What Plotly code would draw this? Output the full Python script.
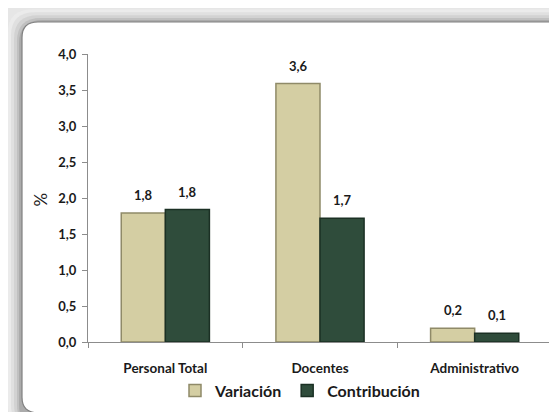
import plotly.graph_objects as go

categories = ["Personal Total", "Docentes", "Administrativo"]
variacion = [1.79, 3.59, 0.19]
contribucion = [1.84, 1.72, 0.12]
series_names = ["Variación", "Contribución"]
y_ticks = [0, 0.5, 1.0, 1.5, 2.0, 2.5, 3.0, 3.5, 4.0]

W, H = 557, 412
ML, MR, MT, MB = 80, 13, 46, 69
PW, PH = W - ML - MR, H - MT - MB

FONT = "Lato, 'Open Sans', Arial, sans-serif"
TXT = "#1a1a1a"


def px2paper(x, y):
    return (x - ML) / PW, (H - MB - y) / PH


def rounded_path(x0, y0, x1, y1, r):
    def P(x, y):
        a, b = px2paper(x, y)
        return f"{a:.5f},{b:.5f}"
    d = (f"M {P(x0 + r, y0)} L {P(x1 - r, y0)} Q {P(x1, y0)} {P(x1, y0 + r)} "
         f"L {P(x1, y1 - r)} Q {P(x1, y1)} {P(x1 - r, y1)} "
         f"L {P(x0 + r, y1)} Q {P(x0, y1)} {P(x0, y1 - r)} "
         f"L {P(x0, y0 + r)} Q {P(x0, y0)} {P(x0 + r, y0)} Z")
    return d


fig = go.Figure()
fig.add_trace(go.Bar(
    x=categories, y=variacion, name=series_names[0],
    marker=dict(color="#d4cea3", line=dict(color="#8f8a68", width=1.5)),
))
fig.add_trace(go.Bar(
    x=categories, y=contribucion, name=series_names[1],
    marker=dict(color="#2f4c3b", line=dict(color="#1b3024", width=1.5)),
))

annotations = []
for vals, shift in ((variacion, -22), (contribucion, 22)):
    for c, v in zip(categories, vals):
        annotations.append(dict(
            x=c, y=v, xref="x", yref="y", text=f"{v:.1f}".replace(".", ","),
            showarrow=False, xshift=shift, yshift=18, yanchor="middle",
            font=dict(family=FONT, size=13, color=TXT, weight="bold"),
        ))
ax, ay = px2paper(32, 196)
annotations.append(dict(
    x=ax, y=ay, xref="paper", yref="paper", text="%", textangle=-90,
    xanchor="center", yanchor="middle",
    showarrow=False, font=dict(family=FONT, size=17, color=TXT),
))

shapes = []
bands = [(0, "#ebebeb"), (3, "#e0e0e0"), (6, "#d2d2d2"), (9, "#c0c0c0"), (11, "#ababab")]
for off, col in bands:
    shapes.append(dict(type="path", path=rounded_path(off, off, W + 20, H + 20, 24),
                       xref="paper", yref="paper", fillcolor=col,
                       line=dict(width=0), layer="below"))
shapes.append(dict(type="path", path=rounded_path(14, 13, W + 4, H + 4, 16),
                   xref="paper", yref="paper", fillcolor="white",
                   line=dict(color="#808080", width=1.2), layer="below"))

fig.update_layout(
    width=W, height=H,
    margin=dict(l=ML, r=MR, t=MT, b=MB),
    paper_bgcolor="#e6e6e6", plot_bgcolor="rgba(0,0,0,0)",
    separators=",.",
    barmode="group", bargap=0.43, bargroupgap=0.0,
    font=dict(family=FONT, color=TXT),
    showlegend=True,
    legend=dict(orientation="h", x=(292 - ML) / PW, xanchor="center",
                y=(H - MB - 393) / PH, yanchor="middle",
                font=dict(family=FONT, size=16, color=TXT, weight="bold"),
                bgcolor="rgba(0,0,0,0)", itemwidth=30, traceorder="normal"),
    annotations=annotations,
    shapes=shapes,
    xaxis=dict(showline=True, linecolor="#8c8c8c", linewidth=1,
               ticks="outside", tickson="boundaries", ticklen=5, tickcolor="#8c8c8c",
               ticklabelstandoff=14,
               tickfont=dict(family=FONT, size=13.5, color=TXT, weight="bold"),
               showgrid=False, fixedrange=True),
    yaxis=dict(range=[0, 4], tickvals=y_ticks, tickformat=".1f",
               showline=True, linecolor="#8c8c8c", linewidth=1,
               ticks="outside", ticklen=5, tickcolor="#8c8c8c",
               ticklabelstandoff=3,
               tickfont=dict(family=FONT, size=13, color=TXT, weight="bold"),
               showgrid=False, zeroline=False, fixedrange=True),
)

fig.write_html("out.html")
